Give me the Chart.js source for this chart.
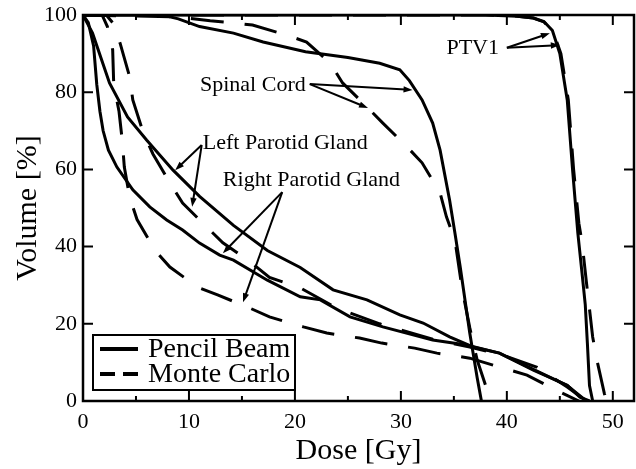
<!DOCTYPE html>
<html>
<head>
<meta charset="utf-8">
<script src="https://cdn.jsdelivr.net/npm/chart.js@4.4.1/dist/chart.umd.min.js"></script>
<style>
  html, body { margin: 0; padding: 0; background: #fff; }
  #box { width: 636px; height: 469px; }
</style>
</head>
<body>
<div id="box"><canvas id="dvh"></canvas></div>
<script>
// ---- Datos (dosis en Gy, volumen en %) ----
const ptvPbDose = [0, 38, 41, 42.5, 43.5, 44.3, 45, 45.7, 46.2, 46.7, 47.1, 47.4, 47.6, 47.8, 48.1];
const ptvPbVol  = [100, 100, 99.7, 99.2, 98.3, 96, 90, 78, 60, 43.5, 33, 25, 15, 4, 0];
const ptvMcDose = [0, 38, 41, 42.5, 43.5, 44.4, 45.1, 45.8, 46.3, 46.8, 47.1, 47.5, 48.1, 48.5, 49.2, 49.4];
const ptvMcVol  = [100, 100, 99.7, 99.2, 98.2, 95.5, 90, 78, 60, 46, 41, 31, 16.6, 10.6, 2, 0];

const cordPbDose = [0, 7.5, 9, 11, 14.2, 17, 21, 25, 28, 29.9, 30.8, 32, 33, 33.7, 34.6, 35.1, 35.6, 36.5, 37.2, 37.6];
const cordPbVol  = [100, 100, 99, 97, 95.3, 93, 90.5, 89, 87.5, 85.8, 83, 78, 72, 65, 52, 43.5, 34.7, 17.6, 6, 0];
const cordMcDose = [0, 9, 12, 14, 16, 19.2, 21.1, 23.3, 24.5, 26.8, 28.3, 30.6, 32, 33.7, 34.3, 35.1, 35.8, 36.5, 37.2, 38, 38.9];
const cordMcVol  = [100, 99.5, 98.5, 98, 97.4, 94.8, 93, 87.6, 82.4, 76.2, 72, 65.8, 61.7, 53.9, 47.7, 41.7, 28.7, 19, 10.6, 4, 0];

const lpgPbDose = [0, 0.9, 2.5, 4.2, 6, 8.5, 11, 14.2, 17.4, 20.5, 23.6, 26.8, 29.9, 32.1, 34.6, 36.8, 39.3, 42.5, 45.7, 46.9, 47.8];
const lpgPbVol  = [100, 95.3, 82.4, 73.6, 67.6, 59.8, 53, 45.5, 39, 34.6, 28.8, 26.2, 22.3, 20.2, 16.6, 14, 12.4, 8, 4.1, 1, 0];
const lpgMcDose = [0, 2.2, 2.8, 3.5, 4.4, 4.7, 5.7, 6.6, 8.2, 9.4, 11.7, 13.2, 15.8, 17.6, 20.5, 24, 28, 33, 36.5, 39.5, 42.8, 45.7, 47.5];
const lpgMcVol  = [100, 100, 98, 92.7, 84, 78, 69.4, 64, 56.5, 51.3, 45, 41, 36, 32, 29.3, 24, 20, 16, 14, 12, 8.8, 3.6, 0];

const rpgPbDose = [0, 0.5, 1.0, 1.3, 1.6, 1.9, 2.4, 3.2, 4.7, 6.3, 7.9, 9.4, 11, 12.9, 14.2, 17.4, 20.5, 22.4, 25.2, 28.3, 33, 36.2, 39.3, 42.5, 45.7, 47.5];
const rpgPbVol  = [100, 98, 92, 82, 75, 70, 65, 60.6, 54.7, 50.3, 46.9, 44.3, 40.9, 37.8, 36.5, 31.3, 27, 26.2, 21.8, 19.2, 15.8, 14.5, 12.4, 8.2, 4, 0];
const rpgMcDose = [0, 1.8, 2.3, 2.8, 2.9, 3.4, 3.7, 3.9, 4.4, 5.1, 6.8, 8.2, 10.8, 12.7, 15.8, 17.6, 20.8, 23, 26.1, 28.2, 31.3, 33.4, 36.5, 38.7, 41.9, 44.5, 46.8];
const rpgMcVol  = [100, 100, 97, 91, 82, 75, 67.6, 60.6, 52.8, 47, 39, 34.7, 29.5, 27.5, 24, 21.8, 19.2, 17.6, 16.3, 15, 13.7, 12.4, 11.1, 9.3, 6.7, 3, 0];

const legendLabels = ["Pencil Beam", "Monte Carlo"];

// etiquetas con flechas: texto, ancla del texto, origen de flecha, puntas (coordenadas de datos)
const notes = [
  { text: "PTV1", at: [34.3, 91.5], from: [40, 91.5], to: [[44.06, 95.3], [45, 92.2]] },
  { text: "Spinal Cord", at: [11.04, 81.9], from: [21.4, 82.1], to: [[31.1, 80.6], [26.9, 75.9]] },
  { text: "Left Parotid Gland", at: [11.3, 66.8], from: [11.2, 66.3], to: [[8.7, 59.8], [10.3, 50.3]] },
  { text: "Right Parotid Gland", at: [13.2, 57.3], from: [18.8, 54.1], to: [[13.2, 38.3], [15.1, 25.6]] }
];

const SERIF = '"Liberation Serif", "Times New Roman", serif';

function pts(xs, ys) {
  return xs.map((x, i) => ({ x, y: ys[i] }));
}

function curve(label, xs, ys, dashed) {
  return {
    label,
    data: pts(xs, ys),
    borderColor: "#000",
    borderWidth: 3,
    borderDash: dashed ? [33, 21] : [],
    pointRadius: 0,
    fill: false,
    tension: 0
  };
}

const datasets = [
  curve("PTV1 PB", ptvPbDose, ptvPbVol, false),
  curve("PTV1 MC", ptvMcDose, ptvMcVol, true),
  curve("Spinal Cord PB", cordPbDose, cordPbVol, false),
  curve("Spinal Cord MC", cordMcDose, cordMcVol, true),
  curve("Left Parotid PB", lpgPbDose, lpgPbVol, false),
  curve("Left Parotid MC", lpgMcDose, lpgMcVol, true),
  curve("Right Parotid PB", rpgPbDose, rpgPbVol, false),
  curve("Right Parotid MC", rpgMcDose, rpgMcVol, true)
];

function arrow(ctx, x0, y0, x1, y1) {
  const a = Math.atan2(y1 - y0, x1 - x0);
  const len = 9, half = 3.2;
  ctx.beginPath();
  ctx.moveTo(x0, y0);
  ctx.lineTo(x1 - Math.cos(a) * len * 0.8, y1 - Math.sin(a) * len * 0.8);
  ctx.stroke();
  ctx.beginPath();
  ctx.moveTo(x1, y1);
  ctx.lineTo(x1 - Math.cos(a) * len - Math.sin(a) * half, y1 - Math.sin(a) * len + Math.cos(a) * half);
  ctx.lineTo(x1 - Math.cos(a) * len + Math.sin(a) * half, y1 - Math.sin(a) * len - Math.cos(a) * half);
  ctx.closePath();
  ctx.fill();
}

// marco, marcas hacia dentro, anotaciones y leyenda
const decorPlugin = {
  id: "decor",
  afterDatasetsDraw(chart) {
    const { ctx, chartArea: ca, scales } = chart;
    const xs = scales.x, ys = scales.y;
    ctx.save();
    ctx.strokeStyle = "#000";
    ctx.fillStyle = "#000";
    ctx.setLineDash([]);

    // ticks
    ctx.lineWidth = 2;
    ctx.beginPath();
    xs.ticks.forEach(t => {
      const px = xs.getPixelForValue(t.value);
      ctx.moveTo(px, ca.bottom); ctx.lineTo(px, ca.bottom - 10);
      ctx.moveTo(px, ca.top); ctx.lineTo(px, ca.top + 10);
      const mid = t.value + 5;
      if (mid < xs.max) {
        const pm = xs.getPixelForValue(mid);
        ctx.moveTo(pm, ca.bottom); ctx.lineTo(pm, ca.bottom - 5);
        ctx.moveTo(pm, ca.top); ctx.lineTo(pm, ca.top + 5);
      }
    });
    ys.ticks.forEach(t => {
      const py = ys.getPixelForValue(t.value);
      ctx.moveTo(ca.left, py); ctx.lineTo(ca.left + 10, py);
      ctx.moveTo(ca.right, py); ctx.lineTo(ca.right - 10, py);
    });
    ctx.stroke();

    ctx.lineWidth = 2.5;
    ctx.strokeRect(ca.left, ca.top, ca.right - ca.left, ca.bottom - ca.top);

    // anotaciones
    ctx.font = "22px " + SERIF;
    ctx.textAlign = "left";
    ctx.textBaseline = "middle";
    ctx.lineWidth = 2;
    notes.forEach(n => {
      ctx.fillText(n.text, xs.getPixelForValue(n.at[0]), ys.getPixelForValue(n.at[1]));
      const fx = xs.getPixelForValue(n.from[0]), fy = ys.getPixelForValue(n.from[1]);
      n.to.forEach(p => arrow(ctx, fx, fy, xs.getPixelForValue(p[0]), ys.getPixelForValue(p[1])));
    });

    // leyenda
    const bx = ca.left + 10, by = ca.bottom - 66, bw = 202, bh = 55;
    ctx.fillStyle = "#fff";
    ctx.fillRect(bx, by, bw, bh);
    ctx.fillStyle = "#000";
    ctx.lineWidth = 2;
    ctx.strokeRect(bx, by, bw, bh);
    ctx.lineWidth = 4;
    ctx.font = "28px " + SERIF;
    legendLabels.forEach((lab, i) => {
      const ly = by + 14 + i * 25;
      ctx.setLineDash(i === 1 ? [15, 8] : []);
      ctx.beginPath();
      ctx.moveTo(bx + 7, ly); ctx.lineTo(bx + 45, ly);
      ctx.stroke();
      ctx.fillText(lab, bx + 55, ly + 1);
    });
    ctx.restore();
  }
};

new Chart(document.getElementById("dvh"), {
  type: "line",
  data: { datasets },
  options: {
    responsive: true,
    maintainAspectRatio: false,
    animation: false,
    layout: { padding: { top: 15, right: 2, left: 0, bottom: 0 } },
    plugins: { legend: { display: false }, tooltip: { enabled: false } },
    scales: {
      x: {
        type: "linear",
        min: 0, max: 52,
        afterFit: s => { s.height = 68; s.paddingLeft = 0; s.paddingRight = 0; },
        grid: { display: false, drawTicks: false },
        border: { display: false },
        ticks: {
          stepSize: 10, includeBounds: false, padding: 8,
          color: "#000", font: { family: SERIF, size: 22 },
          callback: v => (v % 10 === 0 ? v : "")
        },
        title: {
          display: true, text: "Dose [Gy]", color: "#000",
          font: { family: SERIF, size: 30 }, padding: 0
        }
      },
      y: {
        min: 0, max: 100,
        afterFit: s => { s.width = 83; s.paddingTop = 0; s.paddingBottom = 0; },
        grid: { display: false, drawTicks: false },
        border: { display: false },
        ticks: {
          stepSize: 20, padding: 6,
          color: "#000", font: { family: SERIF, size: 22 }
        },
        title: {
          display: true, text: "Volume [%]", color: "#000",
          font: { family: SERIF, size: 30 }, padding: { top: 10, bottom: 0 }
        }
      }
    }
  },
  plugins: [decorPlugin]
});
</script>
</body>
</html>
